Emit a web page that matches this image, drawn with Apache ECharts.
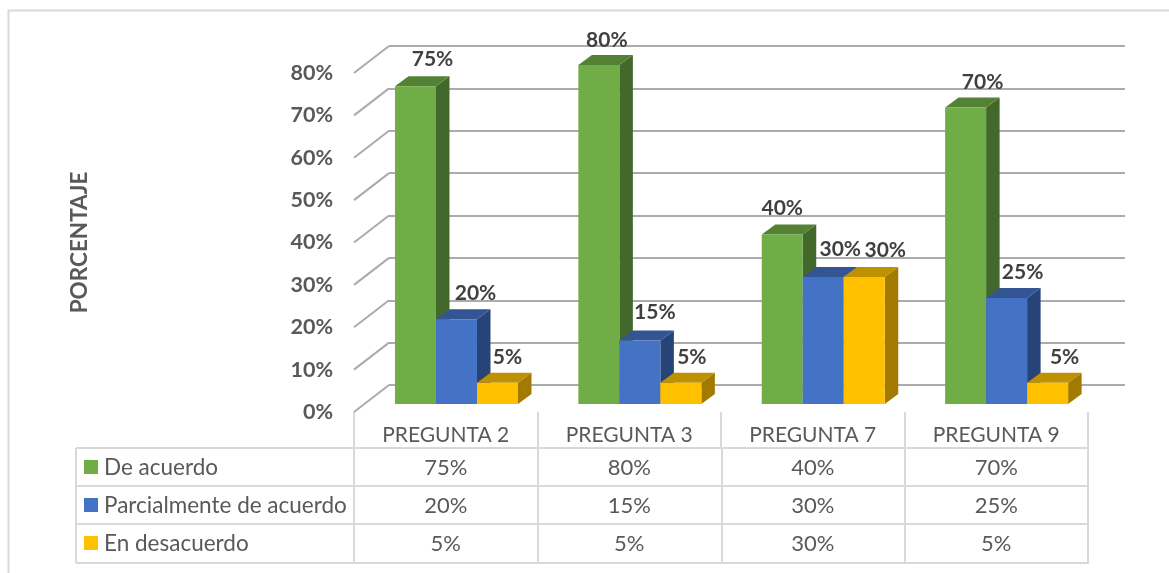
<!DOCTYPE html>
<html>
<head>
<meta charset="utf-8">
<style>html,body{margin:0;padding:0;background:#fff}#c{width:1169px;height:573px}</style>
<script src="https://cdn.jsdelivr.net/npm/echarts@6/dist/echarts.min.js"></script>
</head>
<body>
<div id="c"></div>
<script>
const categories = ['PREGUNTA 2', 'PREGUNTA 3', 'PREGUNTA 7', 'PREGUNTA 9'];
const seriesNames = ['De acuerdo', 'Parcialmente de acuerdo', 'En desacuerdo'];
const deAcuerdo = [75, 80, 40, 70];
const parcialmente = [20, 15, 30, 25];
const enDesacuerdo = [5, 5, 30, 5];
const axisValues = [0, 10, 20, 30, 40, 50, 60, 70, 80];

// styling only
const faces = [
  { front: '#70AD47', top: '#548235', side: '#43682B' },
  { front: '#4472C4', top: '#335593', side: '#264478' },
  { front: '#FFC000', top: '#BF9000', side: '#A37A00' }
];
const labelNudgeX = [[17, 8, 0, 17], [19, 15, 17, 16], [10, 11, 21, 17]];
const labelNudgeY = [[-1, 1, 0, 1], [0, -2, -2, 0], [0, 0, -1, 0]];
const FONT = 'Lato, Carlito, "Open Sans", sans-serif';
const BAR_W = 41, DX = 13.5, DY = 10, GROUP = 3;
const GRID_COLOR = '#D9D9D9', WALL = '#ABABAB', TEXT = '#595959', LABEL = '#404040';
const rowLines = [448, 486, 524, 563];
const rowCenters = [468, 506, 544];
const colLines = [76, 354, 538, 722, 905, 1088];

function barSeries(idx, values) {
  return {
    name: seriesNames[idx],
    type: 'custom',
    xAxisIndex: 1,
    yAxisIndex: 1,
    clip: false,
    data: values.map((v, i) => [i, v]),
    renderItem(params, api) {
      const cat = api.value(0), val = api.value(1);
      const top = api.coord([cat, val]);
      const base = api.coord([cat, 0]);
      const x0 = top[0] - BAR_W * GROUP / 2 + BAR_W * idx;
      const x1 = x0 + BAR_W;
      const f = faces[idx];
      return {
        type: 'group',
        children: [
          { type: 'polygon', shape: { points: [[x1, top[1]], [x1 + DX, top[1] - DY], [x1 + DX, base[1] - DY], [x1, base[1]]] }, style: { fill: f.side } },
          { type: 'polygon', shape: { points: [[x0, top[1]], [x0 + DX, top[1] - DY], [x1 + DX, top[1] - DY], [x1, top[1]]] }, style: { fill: f.top } },
          { type: 'rect', shape: { x: x0, y: top[1], width: BAR_W, height: base[1] - top[1] }, style: { fill: f.front } },
          { type: 'text', z2: 10, style: {
              x: (x0 + x1) / 2 + labelNudgeX[idx][cat], y: top[1] - 26 + labelNudgeY[idx][cat],
              text: val + '%', fill: LABEL, font: 'bold 21px ' + FONT, align: 'center', verticalAlign: 'middle' } }
        ]
      };
    },
    z: 5
  };
}

const wallDiagonals = {
  type: 'custom',
  xAxisIndex: 2,
  yAxisIndex: 2,
  clip: false,
  silent: true,
  data: axisValues.map(v => [0, v]),
  renderItem(params, api) {
    const p = api.coord([0, api.value(1)]);
    const x = params.coordSys.x;
    return { type: 'line', shape: { x1: x, y1: p[1], x2: x + 35, y2: p[1] - 27 }, style: { stroke: WALL, lineWidth: 2 } };
  },
  z: 1
};

const tableCells = [];
[deAcuerdo, parcialmente, enDesacuerdo].forEach((arr, r) => arr.forEach((v, c) => tableCells.push([c, 0, r, v])));
const tableText = {
  type: 'custom',
  xAxisIndex: 2,
  yAxisIndex: 2,
  clip: false,
  silent: true,
  data: tableCells,
  renderItem(params, api) {
    const p = api.coord([api.value(0), 0]);
    return { type: 'text', style: {
      x: p[0], y: rowCenters[api.value(2)], text: api.value(3) + '%',
      fill: TEXT, font: '22px ' + FONT, align: 'center', verticalAlign: 'middle' } };
  },
  z: 6
};

const graphics = [
  { type: 'polyline', shape: { points: [[8.5, 573], [8.5, 10.5], [1169, 10.5]] }, style: { stroke: GRID_COLOR, lineWidth: 2, fill: null } }
];
rowLines.forEach(y => graphics.push({ type: 'line', shape: { x1: 76, y1: y, x2: 1089, y2: y }, style: { stroke: GRID_COLOR, lineWidth: 2 } }));
colLines.forEach(x => graphics.push({ type: 'line', shape: { x1: x, y1: 448, x2: x, y2: 563 }, style: { stroke: GRID_COLOR, lineWidth: 2 } }));
seriesNames.forEach((n, i) => {
  graphics.push({ type: 'rect', shape: { x: 84, y: rowCenters[i] - 8, width: 14, height: 14 }, style: { fill: faces[i].front } });
  graphics.push({ type: 'text', style: { x: 104, y: rowCenters[i], text: n, fill: TEXT, font: '22.5px ' + FONT, verticalAlign: 'middle' } });
});

const hiddenY = { type: 'value', min: 0, max: 80, interval: 10, axisLine: { show: false }, axisTick: { show: false }, axisLabel: { show: false } };

const chart = echarts.init(document.getElementById('c'), null, { renderer: 'canvas' });
chart.setOption({
  animation: false,
  backgroundColor: '#fff',
  graphic: graphics,
  grid: [
    { left: 389, top: 46, width: 736, height: 339 },
    { left: 364.8, top: 65, width: 733.5, height: 339 },
    { left: 354, top: 73, width: 734, height: 339 }
  ],
  xAxis: [
    { gridIndex: 0, type: 'category', data: categories, show: false },
    { gridIndex: 1, type: 'category', data: categories, show: false },
    { gridIndex: 2, type: 'category', data: categories,
      axisLine: { show: false },
      axisTick: { show: true, length: 36, lineStyle: { color: GRID_COLOR, width: 2 } },
      axisLabel: { margin: 13, color: TEXT, fontFamily: FONT, fontSize: 21 } }
  ],
  yAxis: [
    Object.assign({ gridIndex: 0 }, hiddenY, { splitLine: { show: true, lineStyle: { color: WALL, width: 2 } } }),
    Object.assign({ gridIndex: 1 }, hiddenY, { splitLine: { show: false } }),
    { gridIndex: 2, type: 'value', min: 0, max: 80, interval: 10,
      axisLine: { show: false }, axisTick: { show: false }, splitLine: { show: false },
      axisLabel: { margin: 21, padding: [3, 0, 0, 0], color: TEXT, fontFamily: FONT, fontWeight: 'bold', fontSize: 21.5, formatter: '{value}%' },
      name: 'PORCENTAJE', nameLocation: 'middle', nameRotate: 90, nameGap: 263,
      nameTextStyle: { color: TEXT, fontFamily: FONT, fontWeight: 'bold', fontSize: 22.5 } }
  ],
  series: [
    wallDiagonals,
    barSeries(0, deAcuerdo),
    barSeries(1, parcialmente),
    barSeries(2, enDesacuerdo),
    tableText
  ]
});
</script>
</body>
</html>
